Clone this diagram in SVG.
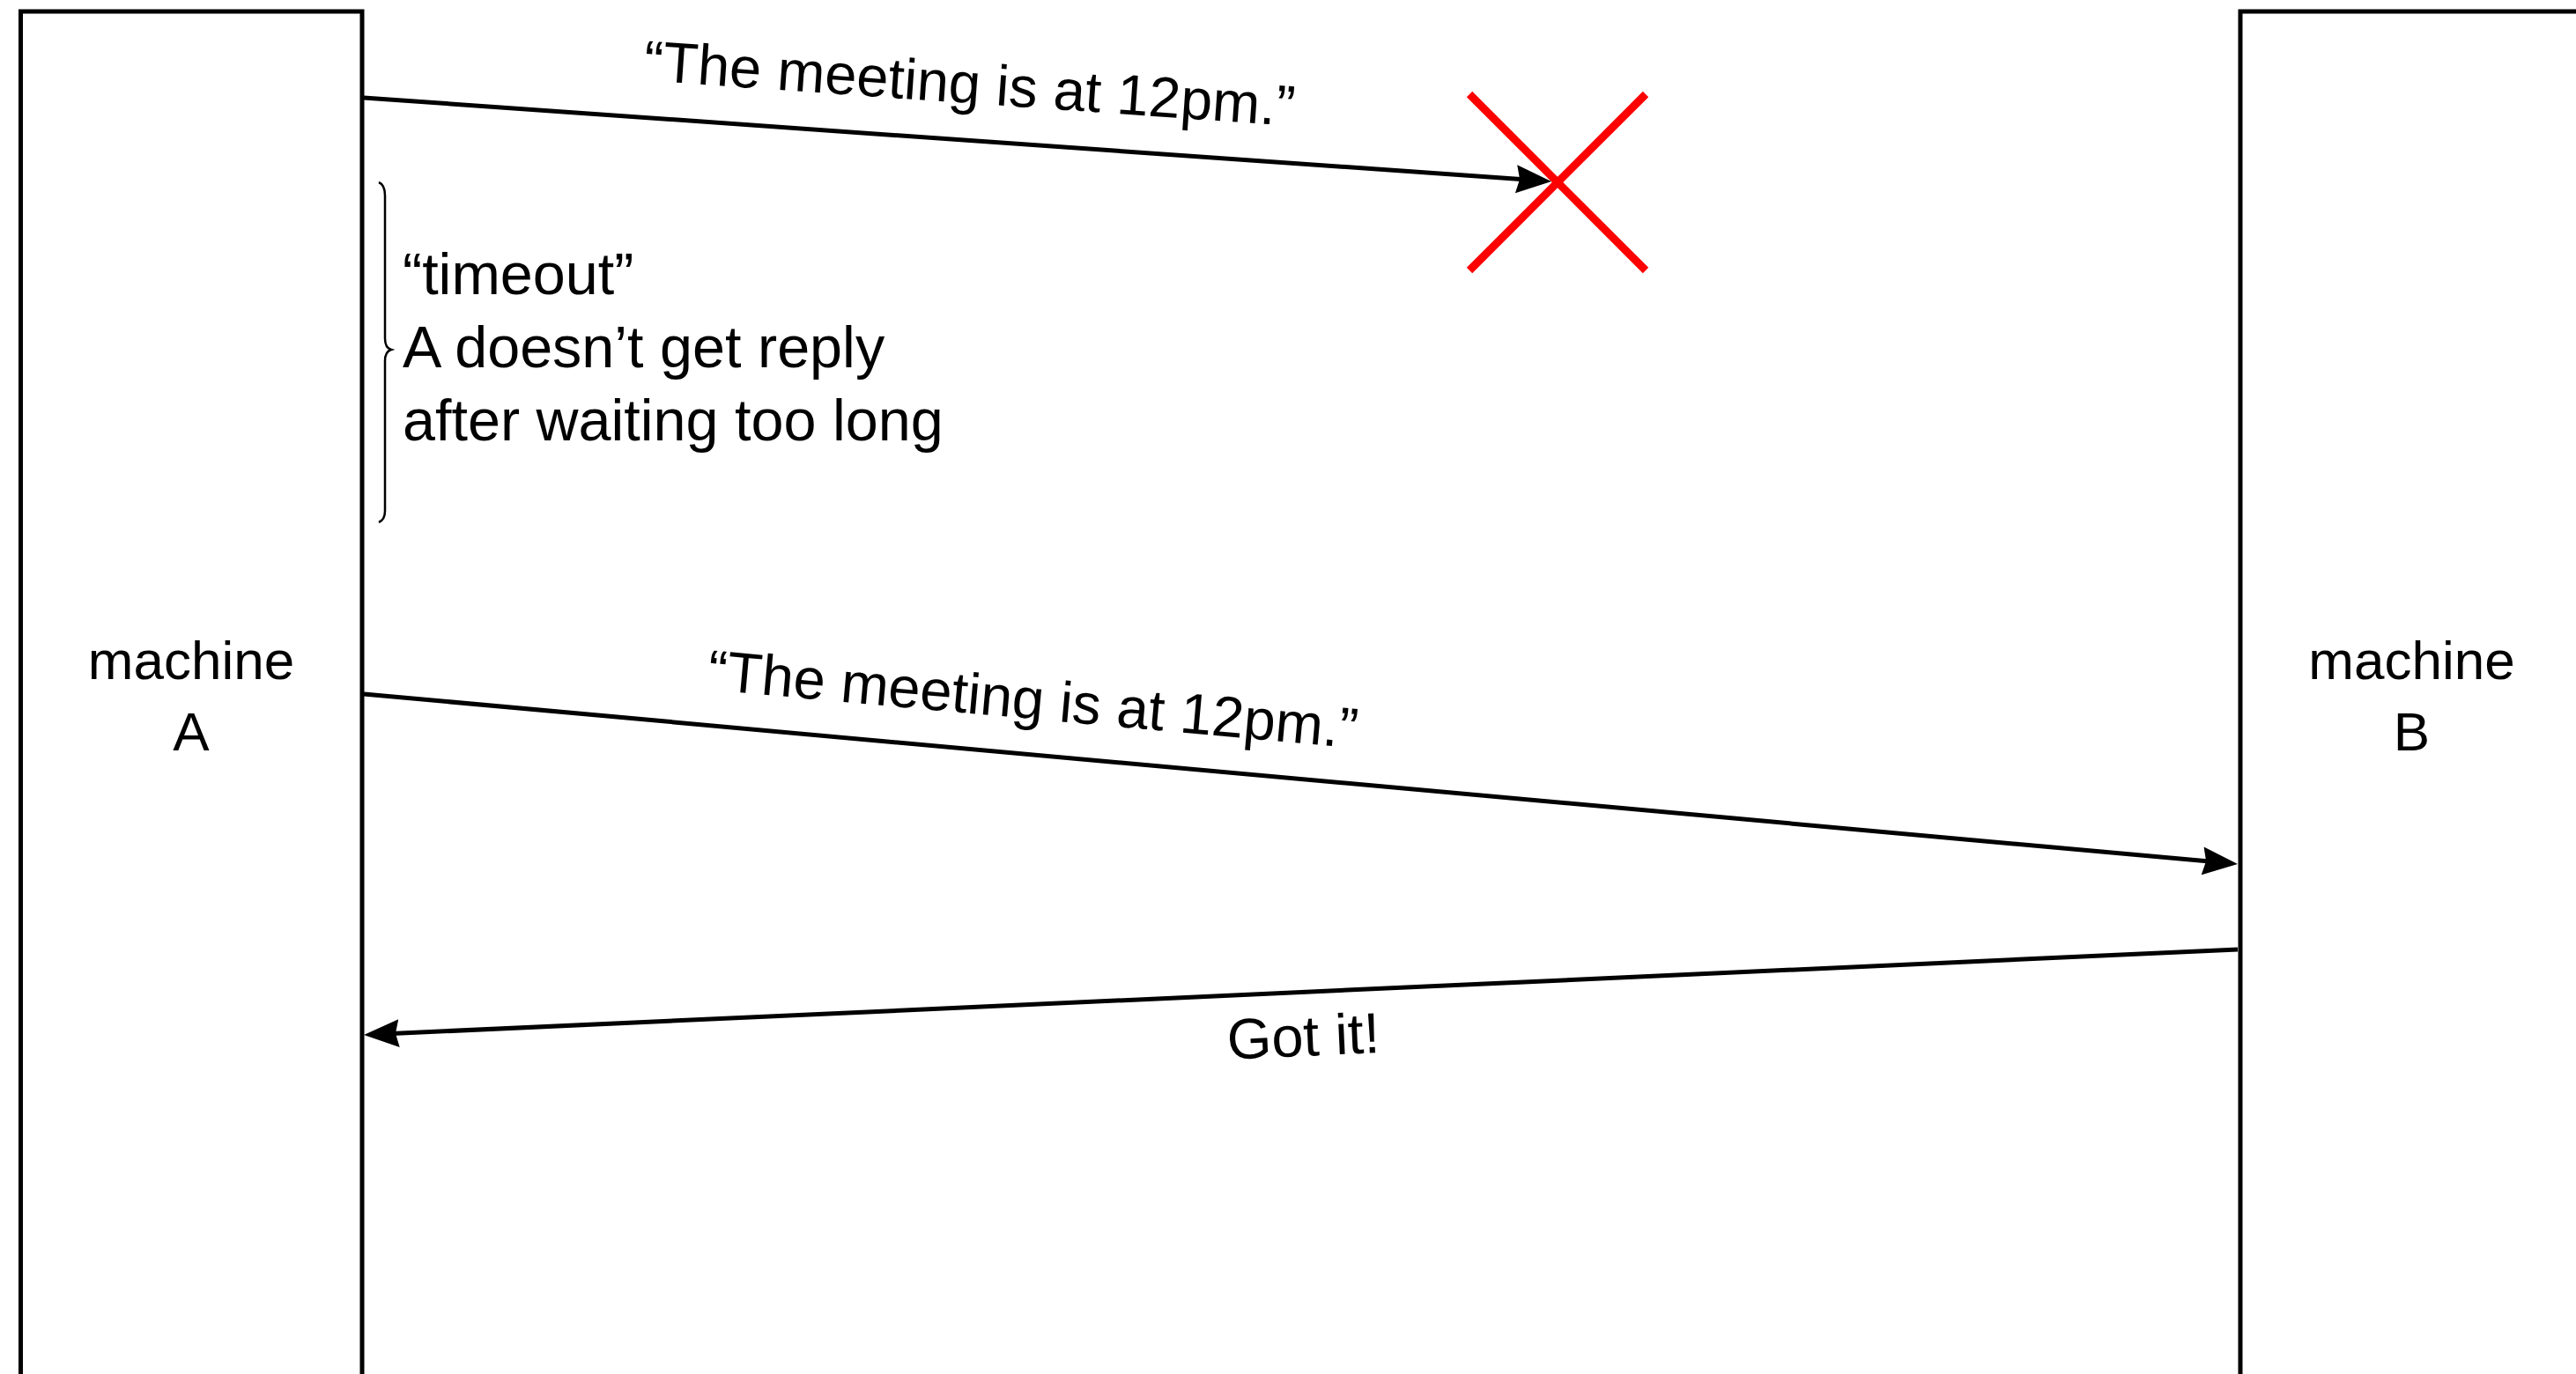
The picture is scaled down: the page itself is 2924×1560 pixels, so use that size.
<svg xmlns="http://www.w3.org/2000/svg" width="2924" height="1560" viewBox="0 0 2924 1560">
<style>
  text { font-family: "Liberation Sans", Arial, sans-serif; font-size: 65px; fill: #000; }
  .mlabel { font-size: 62px; text-anchor: middle; }
  .note { font-size: 66.5px; }
  .box { fill: #fff; stroke: #000; stroke-width: 5; }
  .msg { fill: none; stroke: #000; stroke-width: 5; marker-end: url(#arrow); }
  .lost { stroke: #ff0000; stroke-width: 9; }
  .brace { fill: none; stroke: #000; stroke-width: 2.5; }
</style>
<defs>
  <marker id="arrow" markerUnits="userSpaceOnUse" markerWidth="42" markerHeight="34" refX="30" refY="17" orient="auto" viewBox="0 0 42 34">
    <path d="M0,1 L40,17 L0,33 L4,17 z" fill="#000"/>
  </marker>
</defs>
<rect width="2924" height="1560" fill="#fff"/>
<g id="machineA">
  <rect class="box" x="23.5" y="13" width="387.5" height="1620"/>
  <text class="mlabel" x="217" y="771">machine</text>
  <text class="mlabel" x="217" y="852">A</text>
</g>
<g id="machineB">
  <rect class="box" x="2543" y="13" width="500" height="1620"/>
  <text class="mlabel" x="2737.5" y="771">machine</text>
  <text class="mlabel" x="2737.5" y="852">B</text>
</g>
<g id="lost-marker">
  <line class="lost" x1="1668" y1="107" x2="1868" y2="307"/>
  <line class="lost" x1="1868" y1="107" x2="1668" y2="307"/>
</g>
<g id="timeout-note">
  <path class="brace" d="M430,207 Q437,210 437,222 L437,384 Q437,395 444,397 Q437,399 437,410 L437,580 Q437,590 430,593"/>
  <text class="note" x="457" y="334">“timeout”</text>
  <text class="note" x="457" y="417">A doesn’t get reply</text>
  <text class="note" x="457" y="500">after waiting too long</text>
</g>
<g id="connectors">
  <line class="msg" x1="413" y1="111" x2="1751" y2="205.3"/>
  <text text-anchor="middle" transform="translate(1096,159) rotate(4.03)" x="0" y="-42">“The meeting is at 12pm.”</text>
  <line class="msg" x1="413" y1="788" x2="2530" y2="980.1"/>
  <text text-anchor="middle" transform="translate(1167,856) rotate(5.18)" x="0" y="-40">“The meeting is at 12pm.”</text>
  <line class="msg" x1="2540" y1="1078" x2="423" y2="1174.5"/>
  <text text-anchor="middle" transform="translate(1477,1126) rotate(-2.61)" x="0" y="73">Got it!</text>
</g>
</svg>
